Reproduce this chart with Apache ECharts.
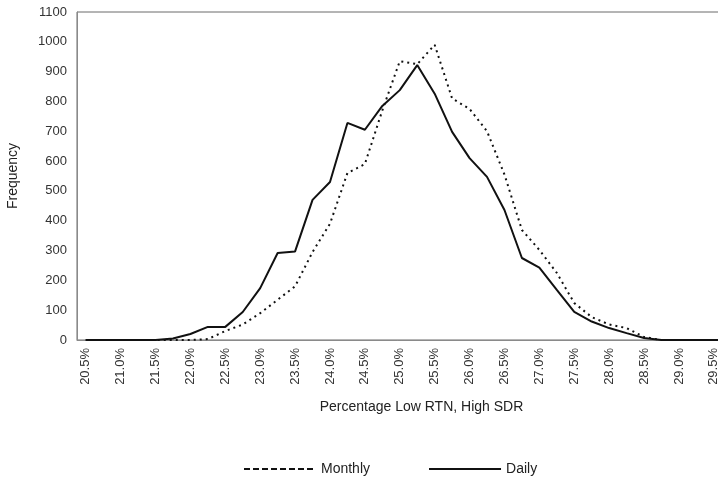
<!DOCTYPE html>
<html>
<head>
<meta charset="utf-8">
<script src="https://cdn.jsdelivr.net/npm/echarts@6/dist/echarts.min.js"></script>
<style>
  html, body { margin: 0; padding: 0; background: #fff; }
  #chart_0 { width: 718px; height: 485px; }
</style>
</head>
<body>
<div id="chart_0"></div>
<script>
// categories every 0.25%, labels shown every 0.5%
var categories = ['20.5%', '20.75%', '21.0%', '21.25%', '21.5%', '21.75%', '22.0%', '22.25%', '22.5%', '22.75%',
  '23.0%', '23.25%', '23.5%', '23.75%', '24.0%', '24.25%', '24.5%', '24.75%', '25.0%', '25.25%',
  '25.5%', '25.75%', '26.0%', '26.25%', '26.5%', '26.75%', '27.0%', '27.25%', '27.5%', '27.75%',
  '28.0%', '28.25%', '28.5%', '28.75%', '29.0%', '29.25%', '29.5%', '29.75%'];

var monthly = [0, 0, 0, 0, 0, 0, 0, 3, 30, 52,
  90, 135, 180, 295, 390, 560, 590, 770, 935, 925,
  990, 810, 775, 700, 555, 369, 302, 225, 124, 77,
  52, 40, 10, 0, 0, 0, 0, 0];

var daily = [0, 0, 0, 0, 0, 5, 20, 44, 44, 94,
  174, 292, 297, 470, 530, 728, 705, 785, 838, 922,
  826, 698, 610, 547, 436, 275, 243, 168, 94, 62,
  40, 23, 7, 0, 0, 0, 0, 0];

var yMax = 1100;
var yStep = 100;

var myChart = echarts.init(document.getElementById('chart_0'));
var font = 'Liberation Sans, Arial, sans-serif';

var option = {
  animation: false,
  textStyle: { fontFamily: font },
  grid: {
    left: 77,
    top: 12,
    height: 328,
    width: 663,   // runs past the right edge, the reference is cropped there
    outerBoundsMode: 'none',
    show: true,
    borderColor: '#6a6a6a',
    borderWidth: 1
  },
  legend: {
    top: 457,
    left: 238,
    itemWidth: 72,
    itemHeight: 10,
    itemGap: 58,
    textStyle: { fontSize: 14, color: '#222', fontFamily: font },
    data: [
      { name: 'Monthly', itemStyle: { opacity: 0 }, lineStyle: { type: [6, 3], width: 2, color: '#111' } },
      { name: 'Daily', itemStyle: { opacity: 0 }, lineStyle: { type: 'solid', width: 2, color: '#111' } }
    ]
  },
  xAxis: {
    type: 'category',
    data: categories,
    boundaryGap: true,
    name: 'Percentage Low RTN, High SDR',
    nameLocation: 'middle',
    nameGap: 60,
    nameTextStyle: { fontSize: 14, color: '#222', padding: [0, 0, 0, 26] },
    axisLine: { lineStyle: { color: '#8a8a8a', width: 1 } },
    axisTick: { show: false },
    axisLabel: {
      interval: 1,
      rotate: 90,
      fontSize: 13,
      color: '#333',
      margin: 8
    }
  },
  yAxis: {
    type: 'value',
    min: 0,
    max: yMax,
    interval: yStep,
    name: 'Frequency',
    nameLocation: 'middle',
    nameGap: 57,
    nameTextStyle: { fontSize: 14, color: '#222' },
    axisLine: { show: true, lineStyle: { color: '#8a8a8a', width: 1 } },
    axisTick: { show: false },
    splitLine: { show: false },
    axisLabel: {
      fontSize: 13,
      color: '#333',
      margin: 10,
      formatter: function (v) { return String(v); }
    }
  },
  series: [
    {
      name: 'Monthly',
      type: 'line',
      data: monthly,
      symbol: 'none',
      lineStyle: { color: '#111', width: 2, type: [2, 4] },
      itemStyle: { color: '#111' }
    },
    {
      name: 'Daily',
      type: 'line',
      data: daily,
      symbol: 'none',
      lineStyle: { color: '#111', width: 2 },
      itemStyle: { color: '#111' }
    }
  ]
};

myChart.setOption(option);
window.addEventListener('resize', function () {
  myChart.resize();
});
</script>
</body>
</html>
